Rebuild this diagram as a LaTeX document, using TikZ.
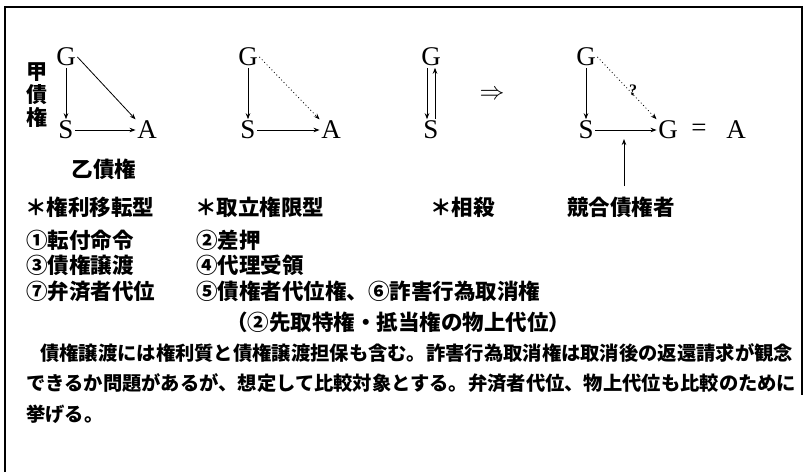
\documentclass[tikz,border=0pt]{standalone}
\usepackage{fontspec}
\setmainfont{Liberation Serif}
\newfontfamily\jp{Noto Sans CJK JP}
\usetikzlibrary{arrows.meta}
\begin{document}
\begin{tikzpicture}[x=1pt,y=-1pt,
  lt/.style={font=\fontsize{27}{27}\selectfont, inner sep=1.5pt},
  jpt/.style={font=\jp\bfseries\fontsize{21.5}{21.5}\selectfont, anchor=west, inner sep=0pt},
  jpc/.style={font=\jp\bfseries\fontsize{21.5}{21.5}\selectfont, inner sep=0pt},
  parl/.style={font=\jp\bfseries\fontsize{19.3}{19.3}\selectfont, anchor=west, inner sep=0pt},
  arr/.style={-{Stealth[length=6pt,width=4.5pt]}, line width=0.8pt},
  dotarr/.style={arr, dash pattern=on 0.9pt off 2.6pt},
  frame/.style={line width=1.5pt}]
\useasboundingbox (0,0) rectangle (805,472);
\fill[white] (0,0) rectangle (805,472);
% frame
\draw[frame] (5,472) -- (5,7) -- (802,7) -- (802,395);

% diagram 1
\node[lt] (g1) at (66,57) {G};
\node[lt] (s1) at (66,130) {S};
\node[lt] (a1) at (147,130) {A};
\draw[arr] (g1) -- (s1);
\draw[arr] (g1.east) -- (a1.north west);
\draw[arr] (s1) -- (a1);
\node[font=\jp\bfseries\fontsize{21}{23}\selectfont, align=center, inner sep=0pt] (kou) at (37,95) {甲\\債\\権};
\node[jpc] (otsu) at (104,169) {乙債権};

% diagram 2
\node[lt] (g2) at (248,57) {G};
\node[lt] (s2) at (248,130) {S};
\node[lt] (a2) at (331,130) {A};
\draw[arr] (g2) -- (s2);
\draw[dotarr] (g2.east) -- (a2.north west);
\draw[arr] (s2) -- (a2);

% diagram 3
\node[lt] (g3) at (431,57) {G};
\node[lt] (s3) at (431,130) {S};
\draw[arr] ([xshift=-4pt]g3.south) -- ([xshift=-4pt]s3.north);
\draw[arr] ([xshift=4pt]s3.north) -- ([xshift=4pt]g3.south);
\node[font=\fontsize{26}{26}\selectfont] (imp) at (492,95) {$\Rightarrow$};

% diagram 4
\node[lt] (g4) at (586,57) {G};
\node[lt] (s4) at (586,130) {S};
\node[lt] (g5) at (668,130) {G};
\node[lt] (eq) at (699,130) {=};
\node[lt] (a4) at (736,130) {A};
\draw[arr] (g4) -- (s4);
\draw[dotarr] (g4.east) -- (g5.north west);
\node[font=\fontsize{16}{16}\selectfont\bfseries, inner sep=0pt] (q) at (633,90) {?};
\draw[arr] (s4) -- (g5);
\node[jpc] (kyo) at (621,207) {競合債権者};
\coordinate (hit) at (624,139);
\coordinate (foot) at (624,186);
\draw[arr] (foot) -- (hit);

% list rows
\node[jpt] (r1a) at (25,207) {＊権利移転型};
\node[jpt] (r1b) at (195,207) {＊取立権限型};
\node[jpt] (r1c) at (430,207) {＊相殺};
\node[jpt] (r2a) at (26,240) {①転付命令};
\node[jpt] (r2b) at (196,240) {②差押};
\node[jpt] (r3a) at (26,265) {③債権譲渡};
\node[jpt] (r3b) at (196,265) {④代理受領};
\node[jpt] (r4a) at (26,291) {⑦弁済者代位};
\node[jpt] (r4b) at (196,291) {⑤債権者代位権、⑥詐害行為取消権};
\node[jpt] (r5b) at (226,322) {（②先取特権・抵当権の物上代位）};

% paragraph
\node[parl] (p1) at (40,353) {債権譲渡には権利質と債権譲渡担保も含む。詐害行為取消権は取消後の返還請求が観念};
\node[parl] (p2) at (26,383) {できるか問題があるが、想定して比較対象とする。弁済者代位、物上代位も比較のために};
\node[parl] (p3) at (26,414) {挙げる。};
\end{tikzpicture}
\end{document}
